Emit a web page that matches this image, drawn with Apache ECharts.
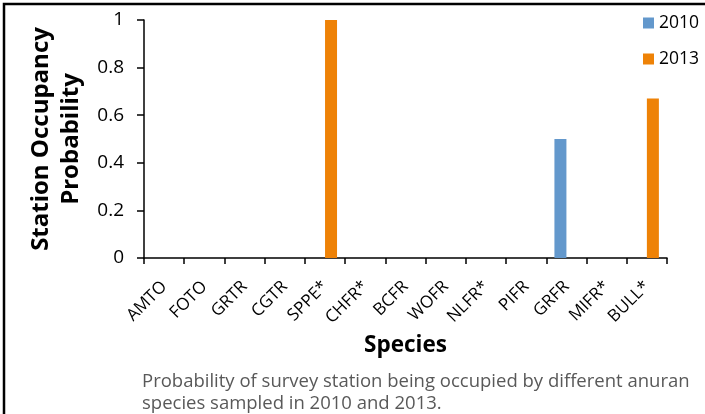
<!DOCTYPE html>
<html>
<head>
<meta charset="utf-8">
<script src="https://cdn.jsdelivr.net/npm/echarts@6/dist/echarts.min.js"></script>
<style>
html,body{margin:0;padding:0;background:#fff;}
#chart{width:705px;height:414px;}
</style>
</head>
<body>
<div id="chart"></div>
<script>
const categories = ['AMTO','FOTO','GRTR','CGTR','SPPE*','CHFR*','BCFR','WOFR','NLFR*','PIFR','GRFR','MIFR*','BULL*'];
const values2010 = [0,0,0,0,0,0,0,0,0,0,0.5,0,0];
const values2013 = [0,0,0,0,1,0,0,0,0,0,0,0,0.67];
const seriesNames = ['2010','2013'];
const caption = ['Probability of survey station being occupied by different anuran','species sampled in 2010 and 2013.'];

const FONT = 'Open Sans';
const chart = echarts.init(document.getElementById('chart'), null, {renderer:'canvas'});
chart.setOption({
  animation:false,
  backgroundColor:'#fff',
  textStyle:{fontFamily:FONT},
  grid:{left:144,right:38,top:20,bottom:156,containLabel:false},
  legend:{
    orient:'vertical', left:643, top:13, padding:0,
    itemWidth:11, itemHeight:11, itemGap:16,
    icon:'rect',
    textStyle:{fontFamily:FONT,fontSize:17.5,color:'#000',lineHeight:20},
    data:seriesNames
  },
  xAxis:{
    type:'category', data:categories,
    axisLine:{lineStyle:{color:'#000',width:1.5}},
    axisTick:{show:true,length:6,lineStyle:{color:'#000',width:1.5}},
    axisLabel:{rotate:45,fontFamily:FONT,fontSize:17,color:'#000',margin:26,interval:0},
    name:'Species', nameLocation:'middle', nameGap:70,
    nameTextStyle:{fontFamily:FONT,fontSize:22.5,fontWeight:'bold',color:'#000'}
  },
  yAxis:{
    type:'value', min:0, max:1, interval:0.2,
    splitLine:{show:false},
    axisLine:{show:true,lineStyle:{color:'#000',width:1.5}},
    axisTick:{show:true,length:7,lineStyle:{color:'#000',width:1.5}},
    axisLabel:{fontFamily:FONT,fontSize:19,color:'#000',margin:20},
    name:'Station Occupancy\nProbability', nameLocation:'middle', nameRotate:90, nameGap:56,
    nameTextStyle:{fontFamily:FONT,fontSize:24,fontWeight:'bold',color:'#000',lineHeight:30,align:'center'}
  },
  series:[
    {name:seriesNames[0],type:'bar',data:values2010,barWidth:12,barGap:'0%',itemStyle:{color:'#6398CC'}},
    {name:seriesNames[1],type:'bar',data:values2013,barWidth:12,barGap:'0%',itemStyle:{color:'#EE8207'}}
  ],
  graphic:[
    {type:'rect',shape:{x:4,y:4,width:760,height:460},style:{fill:'none',stroke:'#000',lineWidth:2.5},silent:true},
    {type:'text',left:142,top:371,style:{text:caption.join('\n'),font:'18.5px "Open Sans"',fill:'#595959',lineHeight:22}}
  ]
});
</script>
</body>
</html>
